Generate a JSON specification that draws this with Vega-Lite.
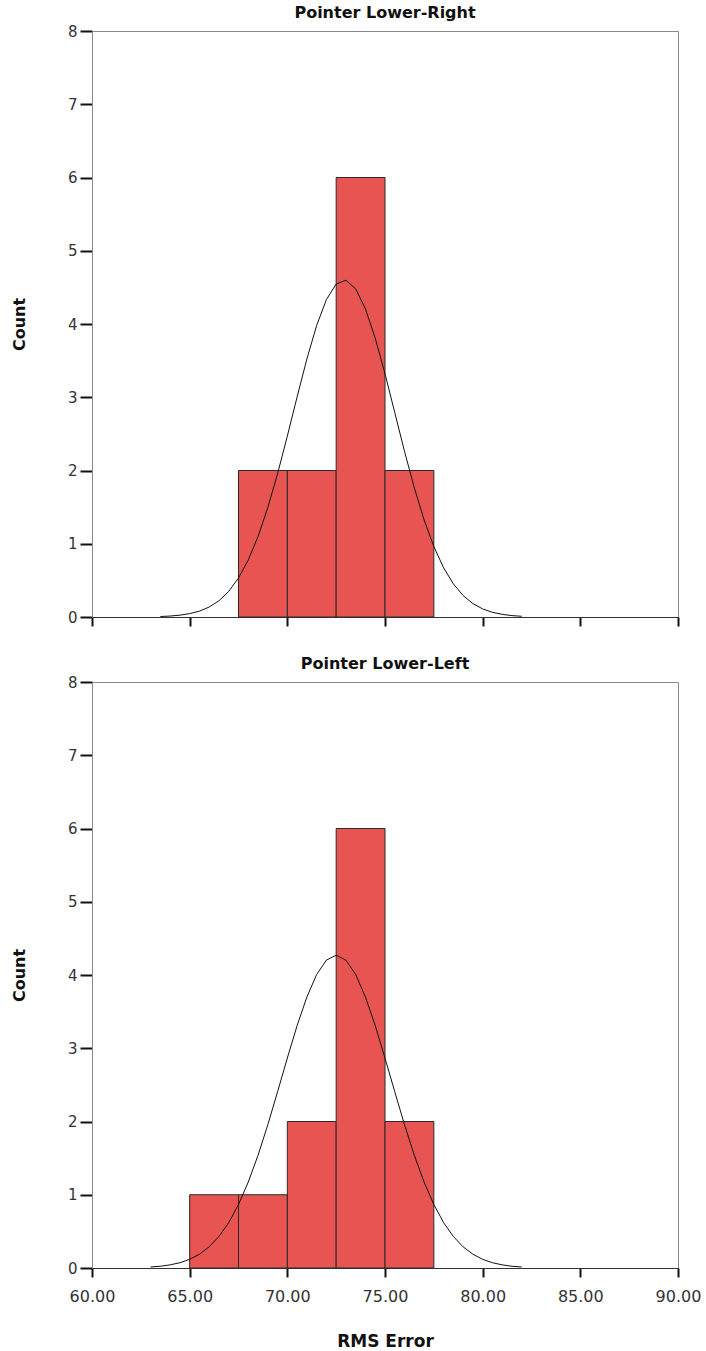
{
  "$schema": "https://vega.github.io/schema/vega-lite/v6.json",
  "background": "white",
  "padding": {"left": 10, "top": 4, "right": 5, "bottom": 0},
  "spacing": 27,
  "datasets": {
    "bins": [
      {"panel": "Pointer Lower-Right", "bin_start": 67.5, "bin_end": 70.0, "count": 2},
      {"panel": "Pointer Lower-Right", "bin_start": 70.0, "bin_end": 72.5, "count": 2},
      {"panel": "Pointer Lower-Right", "bin_start": 72.5, "bin_end": 75.0, "count": 6},
      {"panel": "Pointer Lower-Right", "bin_start": 75.0, "bin_end": 77.5, "count": 2},
      {"panel": "Pointer Lower-Left", "bin_start": 65.0, "bin_end": 67.5, "count": 1},
      {"panel": "Pointer Lower-Left", "bin_start": 67.5, "bin_end": 70.0, "count": 1},
      {"panel": "Pointer Lower-Left", "bin_start": 70.0, "bin_end": 72.5, "count": 2},
      {"panel": "Pointer Lower-Left", "bin_start": 72.5, "bin_end": 75.0, "count": 6},
      {"panel": "Pointer Lower-Left", "bin_start": 75.0, "bin_end": 77.5, "count": 2}
    ],
    "curve": [
      {"panel": "Pointer Lower-Right", "x": 63.5, "y": 0.007},
      {"panel": "Pointer Lower-Right", "x": 64.0, "y": 0.013},
      {"panel": "Pointer Lower-Right", "x": 64.5, "y": 0.025},
      {"panel": "Pointer Lower-Right", "x": 65.0, "y": 0.046},
      {"panel": "Pointer Lower-Right", "x": 65.5, "y": 0.080},
      {"panel": "Pointer Lower-Right", "x": 66.0, "y": 0.136},
      {"panel": "Pointer Lower-Right", "x": 66.5, "y": 0.222},
      {"panel": "Pointer Lower-Right", "x": 67.0, "y": 0.350},
      {"panel": "Pointer Lower-Right", "x": 67.5, "y": 0.532},
      {"panel": "Pointer Lower-Right", "x": 68.0, "y": 0.779},
      {"panel": "Pointer Lower-Right", "x": 68.5, "y": 1.099},
      {"panel": "Pointer Lower-Right", "x": 69.0, "y": 1.494},
      {"panel": "Pointer Lower-Right", "x": 69.5, "y": 1.956},
      {"panel": "Pointer Lower-Right", "x": 70.0, "y": 2.470},
      {"panel": "Pointer Lower-Right", "x": 70.5, "y": 3.004},
      {"panel": "Pointer Lower-Right", "x": 71.0, "y": 3.522},
      {"panel": "Pointer Lower-Right", "x": 71.5, "y": 3.979},
      {"panel": "Pointer Lower-Right", "x": 72.0, "y": 4.333},
      {"panel": "Pointer Lower-Right", "x": 72.5, "y": 4.546},
      {"panel": "Pointer Lower-Right", "x": 73.0, "y": 4.597},
      {"panel": "Pointer Lower-Right", "x": 73.5, "y": 4.479},
      {"panel": "Pointer Lower-Right", "x": 74.0, "y": 4.206},
      {"panel": "Pointer Lower-Right", "x": 74.5, "y": 3.806},
      {"panel": "Pointer Lower-Right", "x": 75.0, "y": 3.320},
      {"panel": "Pointer Lower-Right", "x": 75.5, "y": 2.790},
      {"panel": "Pointer Lower-Right", "x": 76.0, "y": 2.260},
      {"panel": "Pointer Lower-Right", "x": 76.5, "y": 1.764},
      {"panel": "Pointer Lower-Right", "x": 77.0, "y": 1.327},
      {"panel": "Pointer Lower-Right", "x": 77.5, "y": 0.962},
      {"panel": "Pointer Lower-Right", "x": 78.0, "y": 0.672},
      {"panel": "Pointer Lower-Right", "x": 78.5, "y": 0.452},
      {"panel": "Pointer Lower-Right", "x": 79.0, "y": 0.293},
      {"panel": "Pointer Lower-Right", "x": 79.5, "y": 0.183},
      {"panel": "Pointer Lower-Right", "x": 80.0, "y": 0.110},
      {"panel": "Pointer Lower-Right", "x": 80.5, "y": 0.064},
      {"panel": "Pointer Lower-Right", "x": 81.0, "y": 0.036},
      {"panel": "Pointer Lower-Right", "x": 81.5, "y": 0.019},
      {"panel": "Pointer Lower-Right", "x": 82.0, "y": 0.010},
      {"panel": "Pointer Lower-Left", "x": 63.0, "y": 0.014},
      {"panel": "Pointer Lower-Left", "x": 63.5, "y": 0.024},
      {"panel": "Pointer Lower-Left", "x": 64.0, "y": 0.043},
      {"panel": "Pointer Lower-Left", "x": 64.5, "y": 0.072},
      {"panel": "Pointer Lower-Left", "x": 65.0, "y": 0.118},
      {"panel": "Pointer Lower-Left", "x": 65.5, "y": 0.188},
      {"panel": "Pointer Lower-Left", "x": 66.0, "y": 0.289},
      {"panel": "Pointer Lower-Left", "x": 66.5, "y": 0.430},
      {"panel": "Pointer Lower-Left", "x": 67.0, "y": 0.620},
      {"panel": "Pointer Lower-Left", "x": 67.5, "y": 0.867},
      {"panel": "Pointer Lower-Left", "x": 68.0, "y": 1.174},
      {"panel": "Pointer Lower-Left", "x": 68.5, "y": 1.539},
      {"panel": "Pointer Lower-Left", "x": 69.0, "y": 1.955},
      {"panel": "Pointer Lower-Left", "x": 69.5, "y": 2.405},
      {"panel": "Pointer Lower-Left", "x": 70.0, "y": 2.866},
      {"panel": "Pointer Lower-Left", "x": 70.5, "y": 3.309},
      {"panel": "Pointer Lower-Left", "x": 71.0, "y": 3.699},
      {"panel": "Pointer Lower-Left", "x": 71.5, "y": 4.006},
      {"panel": "Pointer Lower-Left", "x": 72.0, "y": 4.203},
      {"panel": "Pointer Lower-Left", "x": 72.5, "y": 4.270},
      {"panel": "Pointer Lower-Left", "x": 73.0, "y": 4.203},
      {"panel": "Pointer Lower-Left", "x": 73.5, "y": 4.006},
      {"panel": "Pointer Lower-Left", "x": 74.0, "y": 3.699},
      {"panel": "Pointer Lower-Left", "x": 74.5, "y": 3.309},
      {"panel": "Pointer Lower-Left", "x": 75.0, "y": 2.866},
      {"panel": "Pointer Lower-Left", "x": 75.5, "y": 2.405},
      {"panel": "Pointer Lower-Left", "x": 76.0, "y": 1.955},
      {"panel": "Pointer Lower-Left", "x": 76.5, "y": 1.539},
      {"panel": "Pointer Lower-Left", "x": 77.0, "y": 1.174},
      {"panel": "Pointer Lower-Left", "x": 77.5, "y": 0.867},
      {"panel": "Pointer Lower-Left", "x": 78.0, "y": 0.620},
      {"panel": "Pointer Lower-Left", "x": 78.5, "y": 0.430},
      {"panel": "Pointer Lower-Left", "x": 79.0, "y": 0.289},
      {"panel": "Pointer Lower-Left", "x": 79.5, "y": 0.188},
      {"panel": "Pointer Lower-Left", "x": 80.0, "y": 0.118},
      {"panel": "Pointer Lower-Left", "x": 80.5, "y": 0.072},
      {"panel": "Pointer Lower-Left", "x": 81.0, "y": 0.043},
      {"panel": "Pointer Lower-Left", "x": 81.5, "y": 0.024},
      {"panel": "Pointer Lower-Left", "x": 82.0, "y": 0.014}
    ]
  },
  "vconcat": [
    {
      "width": 586,
      "height": 586,
      "title": {"text": "Pointer Lower-Right"},
      "layer": [
        {
          "data": {"name": "bins"},
          "transform": [{"filter": "datum.panel === 'Pointer Lower-Right'"}],
          "mark": {"type": "rect", "fill": "#e85452", "stroke": "#2a2a2a", "strokeWidth": 1},
          "encoding": {
            "x": {"field": "bin_start", "type": "quantitative", "scale": {"domain": [60, 90], "nice": false},
                  "axis": {"values": [60, 65, 70, 75, 80, 85, 90], "labels": false, "title": null}},
            "x2": {"field": "bin_end"},
            "y": {"field": "count", "type": "quantitative", "scale": {"domain": [0, 8], "nice": false},
                  "axis": {"values": [0, 1, 2, 3, 4, 5, 6, 7, 8], "format": "d", "title": "Count"}},
            "y2": {"datum": 0}
          }
        },
        {
          "data": {"name": "curve"},
          "transform": [{"filter": "datum.panel === 'Pointer Lower-Right'"}],
          "mark": {"type": "line", "color": "#111111", "strokeWidth": 1, "clip": true},
          "encoding": {
            "x": {"field": "x", "type": "quantitative"},
            "y": {"field": "y", "type": "quantitative"}
          }
        }
      ]
    },
    {
      "width": 586,
      "height": 586,
      "title": {"text": "Pointer Lower-Left"},
      "layer": [
        {
          "data": {"name": "bins"},
          "transform": [{"filter": "datum.panel === 'Pointer Lower-Left'"}],
          "mark": {"type": "rect", "fill": "#e85452", "stroke": "#2a2a2a", "strokeWidth": 1},
          "encoding": {
            "x": {"field": "bin_start", "type": "quantitative", "scale": {"domain": [60, 90], "nice": false},
                  "axis": {"values": [60, 65, 70, 75, 80, 85, 90], "format": ".2f", "title": "RMS Error"}},
            "x2": {"field": "bin_end"},
            "y": {"field": "count", "type": "quantitative", "scale": {"domain": [0, 8], "nice": false},
                  "axis": {"values": [0, 1, 2, 3, 4, 5, 6, 7, 8], "format": "d", "title": "Count"}},
            "y2": {"datum": 0}
          }
        },
        {
          "data": {"name": "curve"},
          "transform": [{"filter": "datum.panel === 'Pointer Lower-Left'"}],
          "mark": {"type": "line", "color": "#111111", "strokeWidth": 1, "clip": true},
          "encoding": {
            "x": {"field": "x", "type": "quantitative"},
            "y": {"field": "y", "type": "quantitative"}
          }
        }
      ]
    }
  ],
  "config": {
    "view": {"stroke": "#8a8a8a", "strokeWidth": 1},
    "title": {"font": "DejaVu Sans", "fontSize": 16, "fontWeight": "bold", "color": "#111111", "offset": 3, "anchor": "middle"},
    "axis": {
      "grid": false,
      "tickColor": "#111111",
      "tickWidth": 2,
      "labelFont": "DejaVu Sans",
      "labelColor": "#333333",
      "titleFont": "DejaVu Sans",
      "titleFontWeight": "bold",
      "titleColor": "#111111"
    },
    "axisY": {
      "tickSize": 12,
      "labelPadding": 3,
      "labelFontSize": 15,
      "domainColor": "#8a8a8a",
      "titleFontSize": 16,
      "titlePadding": 40
    },
    "axisX": {
      "tickSize": 9,
      "labelPadding": 11,
      "labelFontSize": 16,
      "labelFlush": false,
      "labelOverlap": false,
      "domainColor": "#333333",
      "titleFontSize": 17,
      "titlePadding": 29
    }
  }
}
